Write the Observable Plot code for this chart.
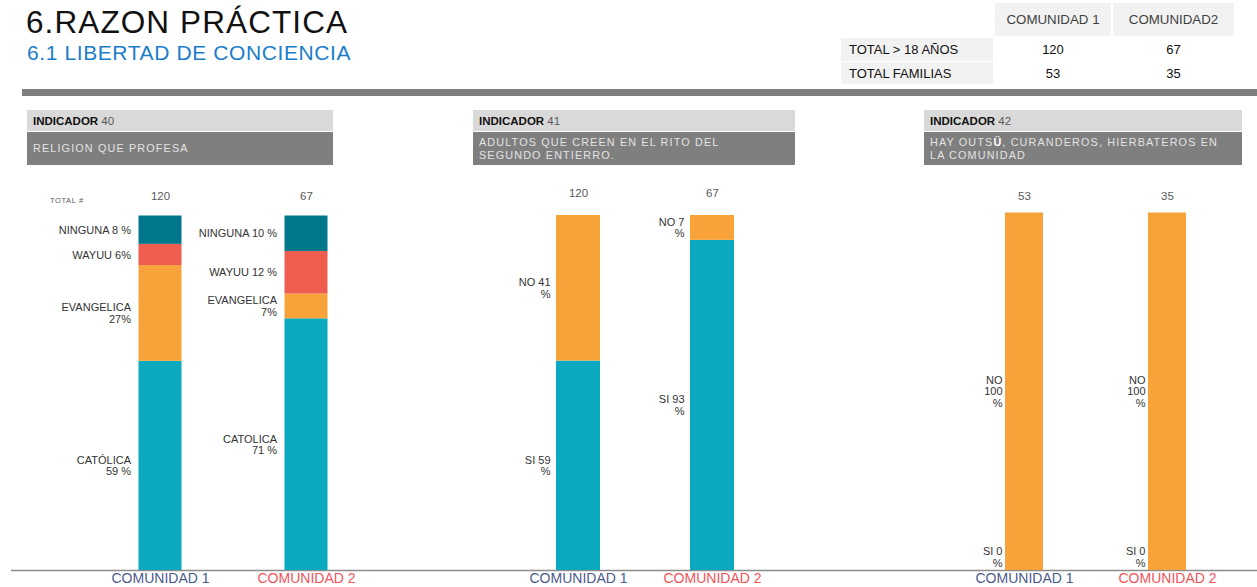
<!DOCTYPE html>
<html>
<head>
<meta charset="utf-8">
<script src="https://cdn.jsdelivr.net/npm/d3@7"></script>
<script src="https://cdn.jsdelivr.net/npm/@observablehq/plot@0.6"></script>
<style>
  body { margin: 0; background: #fff; font-family: "Liberation Sans", Arial, sans-serif; }
  #page { position: relative; width: 1257px; height: 587px; overflow: hidden; background: #fff; }
  .abs { position: absolute; white-space: nowrap; }
  .cell { position: absolute; display: flex; align-items: center; box-sizing: border-box; font-size: 13px; }
  .ind { position: absolute; box-sizing: border-box; display: flex; align-items: center; padding-left: 6px; }
  .ind.light { background: #d9d9d9; font-size: 11.5px; color: #595959; }
  .ind.light b { color: #111; font-weight: bold; }
  .ind.dark { background: #7f7f7f; color: #e3e3e3; font-size: 10.8px; letter-spacing: 1.15px; line-height: 13px; white-space: nowrap; }
  .plotbox { position: absolute; top: 180px; }
</style>
</head>
<body>
<div id="page"></div>
<script>
// ---------------- DATA ----------------
const communities = ["COMUNIDAD 1", "COMUNIDAD 2"];
const communityColors = ["#4b5b8c", "#f2545b"];

const tableHeaders = ["COMUNIDAD 1", "COMUNIDAD2"];
const tableRowLabels = ["TOTAL > 18 AÑOS", "TOTAL FAMILIAS"];
const tableCom1 = [120, 53];
const tableCom2 = [67, 35];

const indicatorNumbers = ["40", "41", "42"];
const indicatorTitles = [
  "RELIGION QUE PROFESA",
  "ADULTOS QUE CREEN EN EL RITO DEL<br>SEGUNDO ENTIERRO.",
  "HAY OUTS<b style=\"color:#fff\">Ü</b>, CURANDEROS, HIERBATEROS EN<br>LA COMUNIDAD"
];

// Indicator 40 - religion
const religionCats = ["CATÓLICA", "EVANGELICA", "WAYUU", "NINGUNA"];
const religionColors = ["#0aa9bf", "#f7a339", "#ef5c50", "#00778a"];
const religionCom1 = [59, 27, 6, 8];
const religionCom2 = [71, 7, 12, 10];
const religionLabels1 = ["CATÓLICA\n59 %", "EVANGELICA\n27%", "WAYUU 6%", "NINGUNA 8 %"];
const religionLabels2 = ["CATOLICA\n71 %", "EVANGELICA\n7%", "WAYUU 12 %", "NINGUNA 10 %"];

// Indicator 41 - segundo entierro
const yesNoCats = ["SI", "NO"];
const yesNoColors = ["#0aa9bf", "#f7a339"];
const ritoCom1 = [59, 41];
const ritoCom2 = [93, 7];
const ritoLabels1 = ["SI 59\n%", "NO 41\n%"];
const ritoLabels2 = ["SI 93\n%", "NO 7\n%"];

// Indicator 42 - curanderos
const curanderoCom1 = [0, 100];
const curanderoCom2 = [0, 100];
const curanderoLabels1 = ["SI 0\n%", "NO\n100\n%"];
const curanderoLabels2 = ["SI 0\n%", "NO\n100\n%"];

// ---------------- PAGE ----------------
const page = document.getElementById("page");
function add(html) { page.insertAdjacentHTML("beforeend", html); }

add(`<div class="abs" style="left:26px;top:7px;font-size:31.5px;line-height:31.5px;color:#111;letter-spacing:1.1px">6.RAZON PRÁCTICA</div>`);
add(`<div class="abs" style="left:27px;top:41.5px;font-size:21px;line-height:21px;color:#1a7dca;letter-spacing:0.6px">6.1 LIBERTAD DE CONCIENCIA</div>`);

// summary table
const colX = [995, 1113], colW = [116, 121];
tableHeaders.forEach((h, i) => add(`<div class="cell" style="left:${colX[i]}px;top:3px;width:${colW[i]}px;height:33px;background:#f2f2f2;justify-content:center;color:#404040;font-size:13.3px">${h}</div>`));
const rowY = [38, 62], rowH = [23, 22];
tableRowLabels.forEach((r, j) => {
  add(`<div class="cell" style="left:841px;top:${rowY[j]}px;width:152px;height:${rowH[j]}px;background:#f2f2f2;padding-left:8px;color:#111">${r}</div>`);
  [tableCom1[j], tableCom2[j]].forEach((v, i) => add(`<div class="cell" style="left:${colX[i]}px;top:${rowY[j]}px;width:${colW[i]}px;height:${rowH[j]}px;justify-content:center;color:#111">${v}</div>`));
});
add(`<div class="abs" style="left:22px;top:89px;width:1235px;height:7px;background:#7f7f7f"></div>`);

// indicator boxes
const boxX = [27, 473, 924], boxW = [306, 322, 318];
indicatorNumbers.forEach((n, i) => {
  add(`<div class="ind light" style="left:${boxX[i]}px;top:110px;width:${boxW[i]}px;height:21px"><span><b>INDICADOR</b> ${n}</span></div>`);
  add(`<div class="ind dark" style="left:${boxX[i]}px;top:132px;width:${boxW[i]}px;height:33px"><span>${indicatorTitles[i]}</span></div>`);
});
add(`<div class="abs" style="left:50px;top:196px;font-size:7.5px;color:#595959;letter-spacing:0.6px">TOTAL #</div>`);

// ---------------- CHARTS ----------------
function rows(cats, v1, v2, l1, l2) {
  return [
    ...cats.map((c, i) => ({comm: communities[0], cat: c, value: v1[i], label: l1[i]})),
    ...cats.map((c, i) => ({comm: communities[1], cat: c, value: v2[i], label: l2[i]}))
  ];
}

function stacked({left, width, marginTop, centers, bw, cats, colors, data, totals, labelGap, totalDy}) {
  const height = 407, marginBottom = 17;
  const step = centers[1] - centers[0];
  const pi = 1 - bw / step;
  const r0 = centers[0] - bw / 2, r1 = r0 + step * (2 - pi);
  const labelOpts = {textAnchor: "end", dx: -(bw / 2 + labelGap), fontSize: 11, lineHeight: 1.05, fill: "#333"};
  const plot = Plot.plot({
    width, height, marginTop, marginBottom, marginLeft: 0, marginRight: 0,
    style: {fontFamily: '"Liberation Sans", Arial, sans-serif', background: "transparent", overflow: "visible"},
    x: {type: "band", domain: communities, range: [r0, r1], paddingInner: pi, paddingOuter: 0, align: 0.5, round: false, axis: null},
    y: {domain: [0, 100], axis: null},
    color: {domain: cats, range: colors},
    marks: [
      Plot.ruleY([0], {stroke: "#8c8c8c", strokeWidth: 1.3}),
      Plot.barY(data, {x: "comm", y: "value", fill: "cat"}),
      Plot.text(data.filter(d => d.value > 0), Plot.stackY({x: "comm", y: "value", text: "label", lineAnchor: "middle", ...labelOpts})),
      Plot.text(data.filter(d => d.value === 0), {x: "comm", text: "label", frameAnchor: "bottom", lineAnchor: "bottom", dy: -4, ...labelOpts}),
      Plot.text(communities, {x: d => d, text: (d, i) => String(totals[i]), frameAnchor: "top", lineAnchor: "middle", dy: totalDy, fontSize: 11.5, fill: "#595959"}),
      ...communities.map((c, i) => Plot.text([c], {x: d => d, text: d => d, frameAnchor: "bottom", lineAnchor: "middle", dy: 8, fontSize: 14, fill: communityColors[i]}))
    ]
  });
  const box = document.createElement("div");
  box.className = "plotbox";
  box.style.left = left + "px";
  box.style.width = width + "px";
  box.appendChild(plot);
  page.appendChild(box);
}

stacked({
  left: 11, width: 434, marginTop: 35.5, centers: [149, 295], bw: 43,
  cats: religionCats, colors: religionColors,
  data: rows(religionCats, religionCom1, religionCom2, religionLabels1, religionLabels2),
  totals: [tableCom1[0], tableCom2[0]], labelGap: 8, totalDy: -20
});
stacked({
  left: 445, width: 435, marginTop: 35, centers: [133, 267], bw: 44,
  cats: yesNoCats, colors: yesNoColors,
  data: rows(yesNoCats, ritoCom1, ritoCom2, ritoLabels1, ritoLabels2),
  totals: [tableCom1[0], tableCom2[0]], labelGap: 6, totalDy: -22
});
stacked({
  left: 880, width: 377, marginTop: 32.5, centers: [144, 287], bw: 38,
  cats: yesNoCats, colors: yesNoColors,
  data: rows(yesNoCats, curanderoCom1, curanderoCom2, curanderoLabels1, curanderoLabels2),
  totals: [tableCom1[1], tableCom2[1]], labelGap: 3, totalDy: -16.5
});
</script>
</body>
</html>
